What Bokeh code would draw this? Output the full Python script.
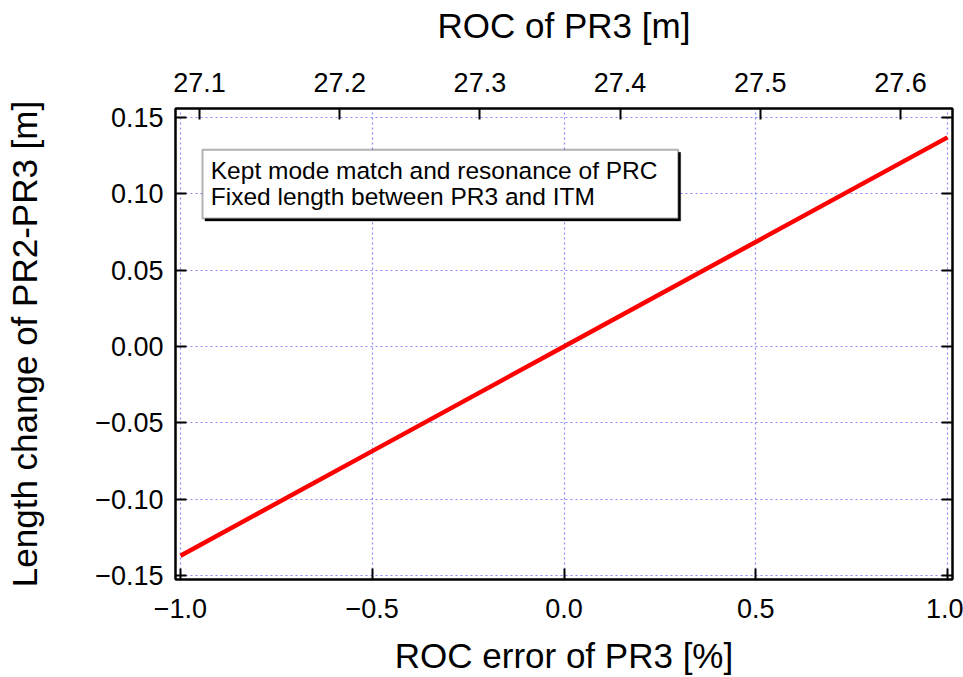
from bokeh.plotting import figure
from bokeh.models import (Range1d, LinearAxis, FixedTicker, CustomJSTickFormatter,
                          BoxAnnotation, Label)
from bokeh.embed import file_html
from bokeh.resources import INLINE

# ---- data ----
roc_error_pct = [-1.0, -0.5, 0.0, 0.5, 1.0]
length_change_m = [-0.137, -0.0685, 0.0, 0.0685, 0.137]
nominal_roc_m = 27.36
x_ticks = [-1.0, -0.5, 0.0, 0.5, 1.0]
y_ticks = [-0.15, -0.10, -0.05, 0.0, 0.05, 0.10, 0.15]
roc_ticks = [27.1, 27.2, 27.3, 27.4, 27.5, 27.6]
note_lines = ["Kept mode match and resonance of PRC", "Fixed length between PR3 and ITM"]

FONT = "Liberation Sans"
X0, X1 = -1.013, 1.013
Y0, Y1 = -0.1526, 0.1559

p = figure(width=963, height=677, output_backend="svg", toolbar_location=None,
           x_range=Range1d(X0, X1), y_range=Range1d(Y0, Y1),
           x_axis_location="below", y_axis_location="left",
           min_border_left=175, min_border_right=11, min_border_top=108, min_border_bottom=98)
p.extra_x_ranges = {"roc": Range1d(nominal_roc_m * (1 + X0 / 100), nominal_roc_m * (1 + X1 / 100))}
p.background_fill_color = "white"
p.border_fill_color = "white"
p.outline_line_color = "black"
p.outline_line_width = 2

minus = "\u2212"
fmt1 = CustomJSTickFormatter(code="var s = Math.abs(tick) < 1e-9 ? '0.0' : tick.toFixed(1); return s.replace('-', '%s');" % minus)
fmt2 = CustomJSTickFormatter(code="var s = Math.abs(tick) < 1e-9 ? '0.00' : tick.toFixed(2); return s.replace('-', '%s');" % minus)
fmt_blank = CustomJSTickFormatter(code="return '';")


def style(ax):
    ax.axis_line_color = "black"
    ax.axis_line_width = 2
    ax.major_tick_in = 11
    ax.major_tick_out = 0
    ax.major_tick_line_width = 2
    ax.major_tick_line_color = "black"
    ax.minor_tick_line_color = None
    ax.major_label_text_font = FONT
    ax.major_label_text_font_size = "27px"
    ax.major_label_text_color = "black"
    ax.axis_label_text_font = FONT
    ax.axis_label_text_font_size = "35px"
    ax.axis_label_text_font_style = "normal"
    ax.axis_label_text_color = "black"


xa = p.xaxis[0]
xa.ticker = FixedTicker(ticks=x_ticks)
xa.formatter = fmt1
xa.axis_label = "ROC error of PR3 [%]"
style(xa)
xa.major_label_standoff = 19
xa.axis_label_standoff = 15

ya = p.yaxis[0]
ya.ticker = FixedTicker(ticks=y_ticks)
ya.formatter = fmt2
ya.axis_label = "Length change of PR2-PR3 [m]"
style(ya)
ya.major_label_standoff = 12
ya.axis_label_standoff = 48

top = LinearAxis(x_range_name="roc", ticker=FixedTicker(ticks=roc_ticks), formatter=fmt1,
                 axis_label="ROC of PR3 [m]")
style(top)
top.major_label_standoff = 17
top.axis_label_standoff = 25
p.add_layout(top, "above")

right = LinearAxis(ticker=FixedTicker(ticks=y_ticks), formatter=fmt_blank)
style(right)
right.major_label_standoff = 0
p.add_layout(right, "right")

for g in (p.xgrid[0], p.ygrid[0]):
    g.grid_line_color = "#8888ff"
    g.grid_line_dash = "2 3"
    g.grid_line_width = 1.2
p.xgrid[0].ticker = FixedTicker(ticks=x_ticks)
p.ygrid[0].ticker = FixedTicker(ticks=y_ticks)

p.line(roc_error_pct, length_change_m, line_color="#ff0000", line_width=4.5)

# note box with shadow
bl, br, bt, bb = -0.9426, 0.2977, 0.1288, 0.0838
dx, dy = 2.5 / 383, 2.5 / 1527
p.add_layout(BoxAnnotation(left=bl + dx, right=br + dx, top=bt - dy, bottom=bb - dy,
                           fill_color="black", fill_alpha=1, line_color="black", line_width=1))
p.add_layout(BoxAnnotation(left=bl, right=br, top=bt, bottom=bb,
                           fill_color="white", fill_alpha=1, line_color="black", line_width=2))
for txt, yy in zip(note_lines, [0.1150, 0.0985]):
    p.add_layout(Label(x=-0.921, y=yy, text=txt, text_baseline="middle", text_align="left",
                       text_font=FONT, text_font_size="24.5px", text_color="black"))

open("out.html", "w").write(file_html(p, INLINE))
